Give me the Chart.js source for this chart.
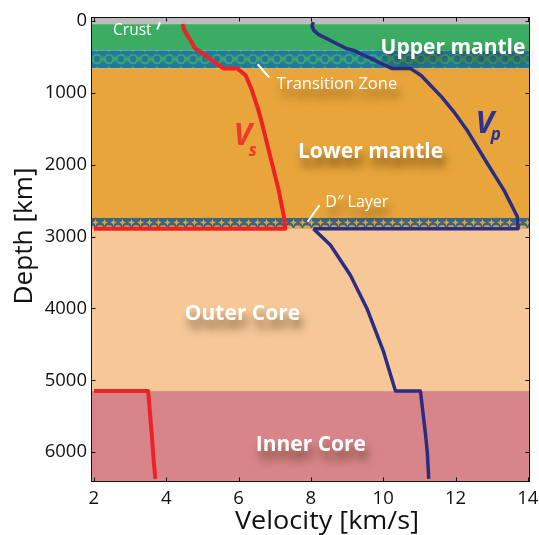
<!DOCTYPE html>
<html>
<head>
<meta charset="utf-8">
<title>Seismic velocity profile of the Earth</title>
<script src="https://cdn.jsdelivr.net/npm/chart.js@4.4.1/dist/chart.umd.min.js"></script>
<style>
  html, body { margin: 0; padding: 0; background: #ffffff; }
  #wrap { width: 539px; height: 535px; }
</style>
</head>
<body>
<div id="wrap"><canvas id="chart" width="539" height="535"></canvas></div>
<script>
// ---- Axis ticks ----
const velocityTicks = [2, 4, 6, 8, 10, 12, 14];
const depthTicks = [0, 1000, 2000, 3000, 4000, 5000, 6000];

// ---- S-wave velocity (km/s) against depth (km) ----
const vsMantleVel   = [4.45, 4.50, 4.80, 4.89, 5.58, 5.96, 6.20, 6.37, 6.55, 6.65, 6.88, 7.11, 7.26, 7.29, 2.00];
const vsMantleDepth = [45,   125,  384,  410,  660,  660,  760,  965,  1242, 1426, 1891, 2354, 2740, 2891, 2891];
const vsInnerVel    = [2.00, 3.50, 3.55, 3.60, 3.65, 3.70];
const vsInnerDepth  = [5150, 5150, 5450, 5750, 6100, 6371];

// ---- P-wave velocity (km/s) against depth (km) ----
const vpMantleVel   = [8.07, 8.03, 8.08, 8.22, 8.98, 9.18, 10.24, 10.75, 11.05, 11.62, 11.95, 12.32, 12.88, 13.34, 13.71, 13.73, 8.07];
const vpMantleDepth = [15,   70,   130,  190,  384,  410,  660,   660,   760,   1060,  1260,  1520,  1983,  2354,  2725,  2891,  2891];
const vpCoreVel     = [8.07, 8.54, 9.09, 9.55, 10.01, 10.34, 11.03, 11.10, 11.17, 11.22, 11.26];
const vpCoreDepth   = [2891, 3118, 3535, 4000, 4602,  5150,  5150,  5450,  5750,  6000,  6371];

// ---- Earth layers (depth ranges, km) ----
const layerNames  = ['Crust', 'Upper mantle', 'Transition Zone', 'Lower mantle', 'D\u2033 Layer', 'Outer Core', 'Inner Core'];
const layerTop    = [0,   45,  410, 660,  2740, 2891, 5150];
const layerBottom = [45,  410, 660, 2891, 2885, 5150, 6371];

// ---- Styles ----
const FONT = "'Open Sans', 'Noto Sans', sans-serif";
const layerFill = {
  'Crust': '#bdbdbd',
  'Upper mantle': '#3aad62',
  'Transition Zone': 'pattern:transition',
  'Lower mantle': '#e8a53b',
  'D\u2033 Layer': 'pattern:dlayer',
  'Outer Core': '#f6c898',
  'Inner Core': '#d78589'
};
const VS_COLOR = '#ed2227';
const VP_COLOR = '#2b2d84';

// Text placed on the layers: [text, velocity, depth, font, align, shadow]
const layerLabels = [
  ['Upper mantle', 11.93, 453,  'bold 21px ' + FONT, 'center', true],
  ['Lower mantle', 9.65,  1913, 'bold 21px ' + FONT, 'center', true],
  ['Outer Core',   6.11,  4161, 'bold 21px ' + FONT, 'center', true],
  ['Inner Core',   8.00,  5989, 'bold 21px ' + FONT, 'center', true],
  ['Crust',        2.53,  195,  '15.5px ' + FONT,    'left',   false],
  ['Transition Zone', 7.06, 940, '16.5px ' + FONT,   'left',   true],
  ['D\u2033 Layer', 8.40, 2594, '16px ' + FONT,      'left',   true]
];
// Short pointer strokes next to the small labels: [v1, d1, v2, d2]
const pointerMarks = [
  [3.75, 120, 3.83, 18],
  [6.53, 602, 6.85, 787],
  [7.91, 2794, 8.24, 2562]
];

const pts = (vel, dep) => vel.map((v, i) => ({ x: v, y: dep[i] }));

function makeTile(w, h, draw) {
  const c = document.createElement('canvas');
  c.width = w; c.height = h;
  draw(c.getContext('2d'), w, h);
  return c;
}
function star(g, cx, cy, r, r2) {
  g.beginPath();
  for (let k = 0; k < 8; k++) {
    const ang = k * Math.PI / 4 - Math.PI / 2;
    const rr = k % 2 === 0 ? r : r2;
    g.lineTo(cx + rr * Math.cos(ang), cy + rr * Math.sin(ang));
  }
  g.closePath();
  g.fill();
}
const transitionTile = makeTile(12, 18, (g, w, h) => {
  g.fillStyle = '#2378a2'; g.fillRect(0, 0, w, h);
  g.strokeStyle = '#3aa866'; g.lineWidth = 2;
  g.beginPath(); g.arc(6, 9, 4.2, 0, Math.PI * 2); g.stroke();
  g.fillStyle = '#3aa866';
  star(g, 0, 9, 4, 1.3); star(g, 12, 9, 4, 1.3);
  star(g, 6, 0, 2.5, 1); star(g, 6, 18, 2.5, 1);
});
const dlayerTile = makeTile(9, 10, (g, w, h) => {
  g.fillStyle = '#3b6680'; g.fillRect(0, 0, w, h);
  g.fillStyle = '#e8a53b';
  g.beginPath(); g.arc(0, 11, 3.8, 0, Math.PI * 2); g.fill();
  g.beginPath(); g.arc(9, 11, 3.8, 0, Math.PI * 2); g.fill();
  star(g, 4.5, 4.5, 3.4, 1.3);
});

const earthPlugin = {
  id: 'earthLayers',
  beforeDatasetsDraw(chart) {
    const { ctx, chartArea: a, scales: { x, y } } = chart;
    ctx.save();
    ctx.beginPath(); ctx.rect(a.left, a.top, a.right - a.left, a.bottom - a.top); ctx.clip();
    layerNames.forEach((name, i) => {
      let top = y.getPixelForValue(layerTop[i]);
      let bot = y.getPixelForValue(layerBottom[i]);
      if (i === 0) top = a.top;
      if (i === layerNames.length - 1) bot = a.bottom;
      const fill = layerFill[name];
      if (fill.startsWith('pattern:')) {
        const tile = fill === 'pattern:transition' ? transitionTile : dlayerTile;
        const p = ctx.createPattern(tile, 'repeat');
        p.setTransform(new DOMMatrix().translate(a.left, Math.round(top)));
        ctx.fillStyle = p;
      } else {
        ctx.fillStyle = fill;
      }
      ctx.fillRect(a.left, top, a.right - a.left, bot - top);
    });
    ctx.restore();
  },
  afterDatasetsDraw(chart) {
    const { ctx, chartArea: a, scales: { x, y } } = chart;
    ctx.save();

    // pointer strokes
    ctx.strokeStyle = '#ffffff'; ctx.lineWidth = 2; ctx.lineCap = 'butt';
    pointerMarks.forEach(m => {
      ctx.beginPath();
      ctx.moveTo(x.getPixelForValue(m[0]), y.getPixelForValue(m[1]));
      ctx.lineTo(x.getPixelForValue(m[2]), y.getPixelForValue(m[3]));
      ctx.stroke();
    });

    // layer names
    layerLabels.forEach(([text, v, d, font, align, shadow]) => {
      ctx.save();
      ctx.font = font; ctx.textAlign = align; ctx.textBaseline = 'alphabetic';
      ctx.fillStyle = '#ffffff';
      if (shadow) {
        ctx.shadowColor = 'rgba(60,35,10,0.6)';
        ctx.shadowBlur = 9; ctx.shadowOffsetX = 3; ctx.shadowOffsetY = 9;
      }
      ctx.fillText(text, x.getPixelForValue(v), y.getPixelForValue(d));
      ctx.restore();
    });

    // V_s and V_p labels
    const vLabel = (v, d, sub, color, subDy) => {
      const px = x.getPixelForValue(v), py = y.getPixelForValue(d);
      ctx.fillStyle = color; ctx.textAlign = 'left'; ctx.textBaseline = 'alphabetic';
      ctx.font = 'italic bold 31px ' + FONT;
      ctx.fillText('V', px, py);
      const wV = ctx.measureText('V').width;
      ctx.font = 'italic bold 17px ' + FONT;
      ctx.fillText(sub, px + wV - 3, py + subDy);
    };
    vLabel(5.86, 1728, 's', '#ec3b2b', 11);
    vLabel(12.55, 1565, 'p', '#2e3192', 7);

    // frame with inward ticks on all four sides
    ctx.strokeStyle = '#111111'; ctx.lineWidth = 1;
    const L = Math.round(a.left) + 0.5, R = Math.round(a.right) - 0.5;
    const T = Math.round(a.top) + 0.5, B = Math.round(a.bottom) - 0.5;
    ctx.strokeRect(L, T, R - L, B - T);
    ctx.beginPath();
    velocityTicks.forEach(v => {
      const px = Math.round(x.getPixelForValue(v)) + 0.5;
      ctx.moveTo(px, B); ctx.lineTo(px, B - 4);
      ctx.moveTo(px, T); ctx.lineTo(px, T + 4);
    });
    depthTicks.forEach(d => {
      const py = Math.round(y.getPixelForValue(d)) + 0.5;
      ctx.moveTo(L, py); ctx.lineTo(L + 4, py);
      ctx.moveTo(R, py); ctx.lineTo(R - 4, py);
    });
    ctx.stroke();

    // axis titles, fitted to their lengths
    const fitText = (text, cx, cy, width, rotate) => {
      ctx.save();
      ctx.font = '26px ' + FONT; ctx.fillStyle = '#111111';
      ctx.textAlign = 'center'; ctx.textBaseline = 'alphabetic';
      const w = ctx.measureText(text).width;
      ctx.translate(cx, cy);
      if (rotate) ctx.rotate(-Math.PI / 2);
      ctx.scale(width / w, 1);
      ctx.fillText(text, 0, 0);
      ctx.restore();
    };
    fitText('Velocity [km/s]', 327, 529, 184, false);
    fitText('Depth [km]', 32, 236, 137, true);
    ctx.restore();
  }
};

const lineStyle = (color, width) => ({
  borderColor: color, backgroundColor: color, borderWidth: width,
  pointRadius: 0, pointHoverRadius: 0, tension: 0, fill: false,
  borderJoinStyle: 'round', borderCapStyle: 'butt'
});

function build() {
  new Chart(document.getElementById('chart'), {
    type: 'line',
    data: {
      datasets: [
        { label: 'Vs', data: pts(vsMantleVel, vsMantleDepth), ...lineStyle(VS_COLOR, 4) },
        { label: 'Vs inner core', data: pts(vsInnerVel, vsInnerDepth), ...lineStyle(VS_COLOR, 4) },
        { label: 'Vp', data: pts(vpMantleVel, vpMantleDepth), ...lineStyle(VP_COLOR, 3.5) },
        { label: 'Vp core', data: pts(vpCoreVel, vpCoreDepth), ...lineStyle(VP_COLOR, 3.5) }
      ]
    },
    options: {
      responsive: false,
      animation: false,
      devicePixelRatio: 1,
      layout: { padding: { top: 17, right: 9, left: 0, bottom: 0 } },
      plugins: { legend: { display: false }, tooltip: { enabled: false } },
      events: [],
      scales: {
        x: {
          type: 'linear', position: 'bottom', min: 1.92, max: 14.06,
          grid: { display: false, drawTicks: false }, border: { display: false },
          ticks: { font: { family: FONT, size: 18.5 }, color: '#111111', padding: 6, maxRotation: 0,
                   callback: v => String(v) },
          afterBuildTicks: s => { s.ticks = velocityTicks.map(v => ({ value: v })); },
          afterFit: s => { s.height = 53; s.paddingLeft = 0; s.paddingRight = 0; }
        },
        y: {
          type: 'linear', position: 'left', reverse: true, min: -55, max: 6415,
          grid: { display: false, drawTicks: false }, border: { display: false },
          ticks: { font: { family: FONT, size: 18.5 }, color: '#111111', padding: 4,
                   callback: v => String(v) },
          afterBuildTicks: s => { s.ticks = depthTicks.map(v => ({ value: v })); },
          afterFit: s => { s.width = 91; s.paddingTop = 0; s.paddingBottom = 0; }
        }
      }
    },
    plugins: [earthPlugin]
  });
}

Promise.all([
  document.fonts.load('18px "Open Sans"'),
  document.fonts.load('bold 21px "Open Sans"'),
  document.fonts.load('italic bold 30px "Open Sans"')
]).catch(() => {}).then(build);
</script>
</body>
</html>
